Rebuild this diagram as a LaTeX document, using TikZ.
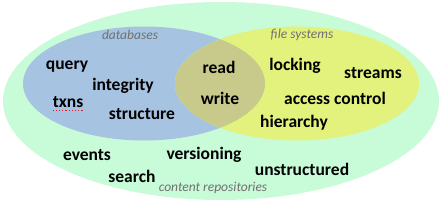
\documentclass[tikz,border=0pt]{standalone}
\usepackage{fontspec}
\setmainfont{Carlito}
\usetikzlibrary{positioning}
\definecolor{repogreen}{HTML}{C8FBD8}
\definecolor{dbblue}{HTML}{A6C4E2}
\definecolor{fsyellow}{HTML}{E2F27C}
\definecolor{overlap}{HTML}{C8CA8C}
\definecolor{setgray}{HTML}{707070}
\definecolor{spellred}{HTML}{E02020}

\begin{document}
\begin{tikzpicture}[x=1pt, y=-1pt,
    term/.style={font=\fontsize{17.5}{20}\selectfont\bfseries, inner sep=0pt},
    setname/.style={font=\fontsize{13.5}{16}\selectfont\itshape, text=setgray, inner sep=0pt}
    ]
    \useasboundingbox (0,0) rectangle (441,203);

    % Sets
    \fill[repogreen] (221,101) ellipse [x radius=218, y radius=99];
    \fill[dbblue] (144,83.5) ellipse [x radius=121, y radius=57];
    \fill[fsyellow] (297,83.5) ellipse [x radius=122, y radius=57];
    \begin{scope}
        \clip (144,83.5) ellipse [x radius=121, y radius=57];
        \fill[overlap] (297,83.5) ellipse [x radius=122, y radius=57];
    \end{scope}

    % Set names
    \node [setname] (db) at (130,35) {databases};
    \node [setname] (fs) at (302,35) {file systems};
    \node [setname] (repo) at (213,188) {content repositories};

    % Databases
    \node [term] (query) at (67,67) {query};
    \node [term] (integrity) at (123,86) {integrity};
    \node [term] (txns) at (68,102) {txns};
    \node [term] (structure) at (142,114) {structure};

    % Shared
    \node [term] (read) at (219,67) {read};
    \node [term] (write) at (220,98) {write};

    % File systems
    \node [term] (locking) at (295,66) {locking};
    \node [term] (streams) at (373,73) {streams};
    \node [term] (access) at (335,98) {access control};
    \node [term] (hierarchy) at (294,123) {hierarchy};

    % Content repositories
    \node [term] (events) at (87,155) {events};
    \node [term] (search) at (132,176) {search};
    \node [term] (versioning) at (204,155) {versioning};
    \node [term] (unstructured) at (302,169) {unstructured};

    % Spelling mark
    \draw[spellred, dotted, line width=1.2pt] ([yshift=-2.5pt]txns.south west) -- ([yshift=-2.5pt]txns.south east);
\end{tikzpicture}
\end{document}
